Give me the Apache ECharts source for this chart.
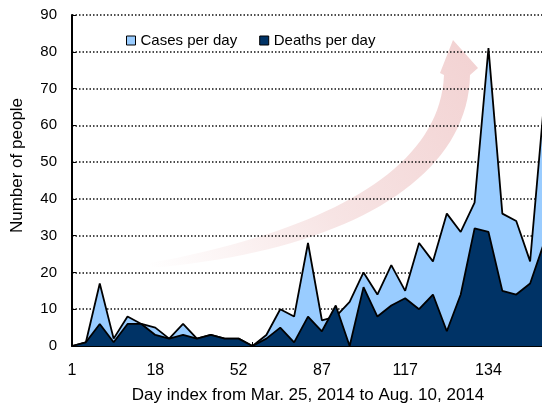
<!DOCTYPE html>
<html>
<head>
<meta charset="utf-8">
<script src="https://cdn.jsdelivr.net/npm/echarts@6/dist/echarts.min.js"></script>
<style>
html,body{margin:0;padding:0;background:#fff;}
#chart{width:542px;height:406px;}
</style>
</head>
<body>
<div id="chart"></div>
<script>
// ---- data ----
var tickLabels = ['1', '18', '52', '87', '117', '134'];
var pointCount = 35;
var casesPerDay  = [0, 1, 17, 2, 8, 6, 5, 2, 6, 2, 3, 2, 2, 0, 3, 10, 8, 28, 7, 8, 12, 20, 14, 22, 15, 28, 23, 36, 31, 39, 81, 36, 34, 23, 66];
var deathsPerDay = [0, 1, 6, 1, 6, 6, 3, 2, 3, 2, 3, 2, 2, 0, 2, 5, 1, 8, 4, 11, 0, 16, 8, 11, 13, 10, 14, 4, 14, 32, 31, 15, 14, 17, 28];
var yTicks = [0, 10, 20, 30, 40, 50, 60, 70, 80, 90];

var categories = [];
for (var i = 0; i < pointCount; i++) categories.push(String(i));

var chart = echarts.init(document.getElementById('chart'), null, {renderer: 'canvas'});
var FONT = 'Liberation Sans, Arial, sans-serif';

// decorative curved arrow (outline sampled from two cubic curves)
function cubic(p0, p1, p2, p3, n) {
  var pts = [];
  for (var k = 0; k <= n; k++) {
    var t = k / n, u = 1 - t;
    pts.push([
      u*u*u*p0[0] + 3*u*u*t*p1[0] + 3*u*t*t*p2[0] + t*t*t*p3[0],
      u*u*u*p0[1] + 3*u*u*t*p1[1] + 3*u*t*t*p2[1] + t*t*t*p3[1]
    ]);
  }
  return pts;
}
var arrowPts = cubic([150, 263], [320, 232], [440, 172], [444, 75], 40)
  .concat([[440, 73], [453, 40], [478, 68], [470, 75]])
  .concat(cubic([470, 75], [468, 182], [340, 252], [150, 268], 40).slice(1));

var arrowFill = new echarts.graphic.LinearGradient(0, 1, 1, 0, [
  {offset: 0, color: 'rgba(215,120,120,0)'},
  {offset: 0.45, color: 'rgba(215,120,120,0.2)'},
  {offset: 1, color: 'rgba(220,130,130,0.36)'}
]);

var option = {
  animation: false,
  backgroundColor: '#ffffff',
  textStyle: {fontFamily: FONT},
  grid: {left: 72, width: 472, top: 15, bottom: 60, containLabel: false, outerBoundsMode: 'none'},
  legend: {
    left: 121, top: 28,
    icon: 'rect',
    itemWidth: 9, itemHeight: 9, itemGap: 22,
    textStyle: {fontFamily: FONT, fontSize: 15, color: '#000'},
    data: [
      {name: 'Cases per day', itemStyle: {color: '#99ccff', borderColor: '#000', borderWidth: 1}},
      {name: 'Deaths per day', itemStyle: {color: '#003366', borderColor: '#000', borderWidth: 1}}
    ]
  },
  graphic: {
    elements: [{
      type: 'polygon',
      z: -5,
      silent: true,
      shape: {points: arrowPts},
      style: {fill: arrowFill}
    }]
  },
  xAxis: {
    type: 'category',
    data: categories,
    boundaryGap: false,
    name: 'Day index from Mar. 25, 2014 to Aug. 10, 2014',
    nameLocation: 'middle',
    nameGap: 41,
    nameTextStyle: {fontFamily: FONT, fontSize: 17, color: '#000'},
    axisLine: {lineStyle: {color: '#000', width: 2}},
    axisTick: {show: true, inside: true, length: 4, interval: 0, lineStyle: {color: '#000', width: 1}},
    axisLabel: {
      interval: 0,
      margin: 17,
      fontFamily: FONT, fontSize: 16, color: '#000',
      formatter: function (v, idx) { return idx % 6 === 0 && tickLabels[idx / 6] !== undefined ? tickLabels[idx / 6] : ''; }
    },
    splitLine: {show: false}
  },
  yAxis: {
    type: 'value',
    min: yTicks[0], max: yTicks[yTicks.length - 1], interval: 10,
    name: 'Number of people',
    nameLocation: 'middle',
    nameGap: 46,
    nameTextStyle: {fontFamily: FONT, fontSize: 17, color: '#000', padding: [0, 0, 0, 30]},
    axisLine: {show: true, lineStyle: {color: '#000', width: 2}},
    axisTick: {show: true, inside: true, length: 4, lineStyle: {color: '#000', width: 1}},
    axisLabel: {margin: 15, fontFamily: FONT, fontSize: 15, color: '#000'},
    splitLine: {show: true, lineStyle: {color: '#111', width: 1.5, type: [1.5, 2]}}
  },
  series: [
    {
      name: 'Cases per day',
      type: 'line',
      data: casesPerDay,
      symbol: 'none',
      color: '#99ccff',
      lineStyle: {color: '#000', width: 1.8},
      areaStyle: {color: '#99ccff', opacity: 1},
      z: 2
    },
    {
      name: 'Deaths per day',
      type: 'line',
      data: deathsPerDay,
      symbol: 'none',
      color: '#003366',
      lineStyle: {color: '#000', width: 1.8},
      areaStyle: {color: '#003366', opacity: 1},
      z: 3
    }
  ]
};
chart.setOption(option);
</script>
</body>
</html>
